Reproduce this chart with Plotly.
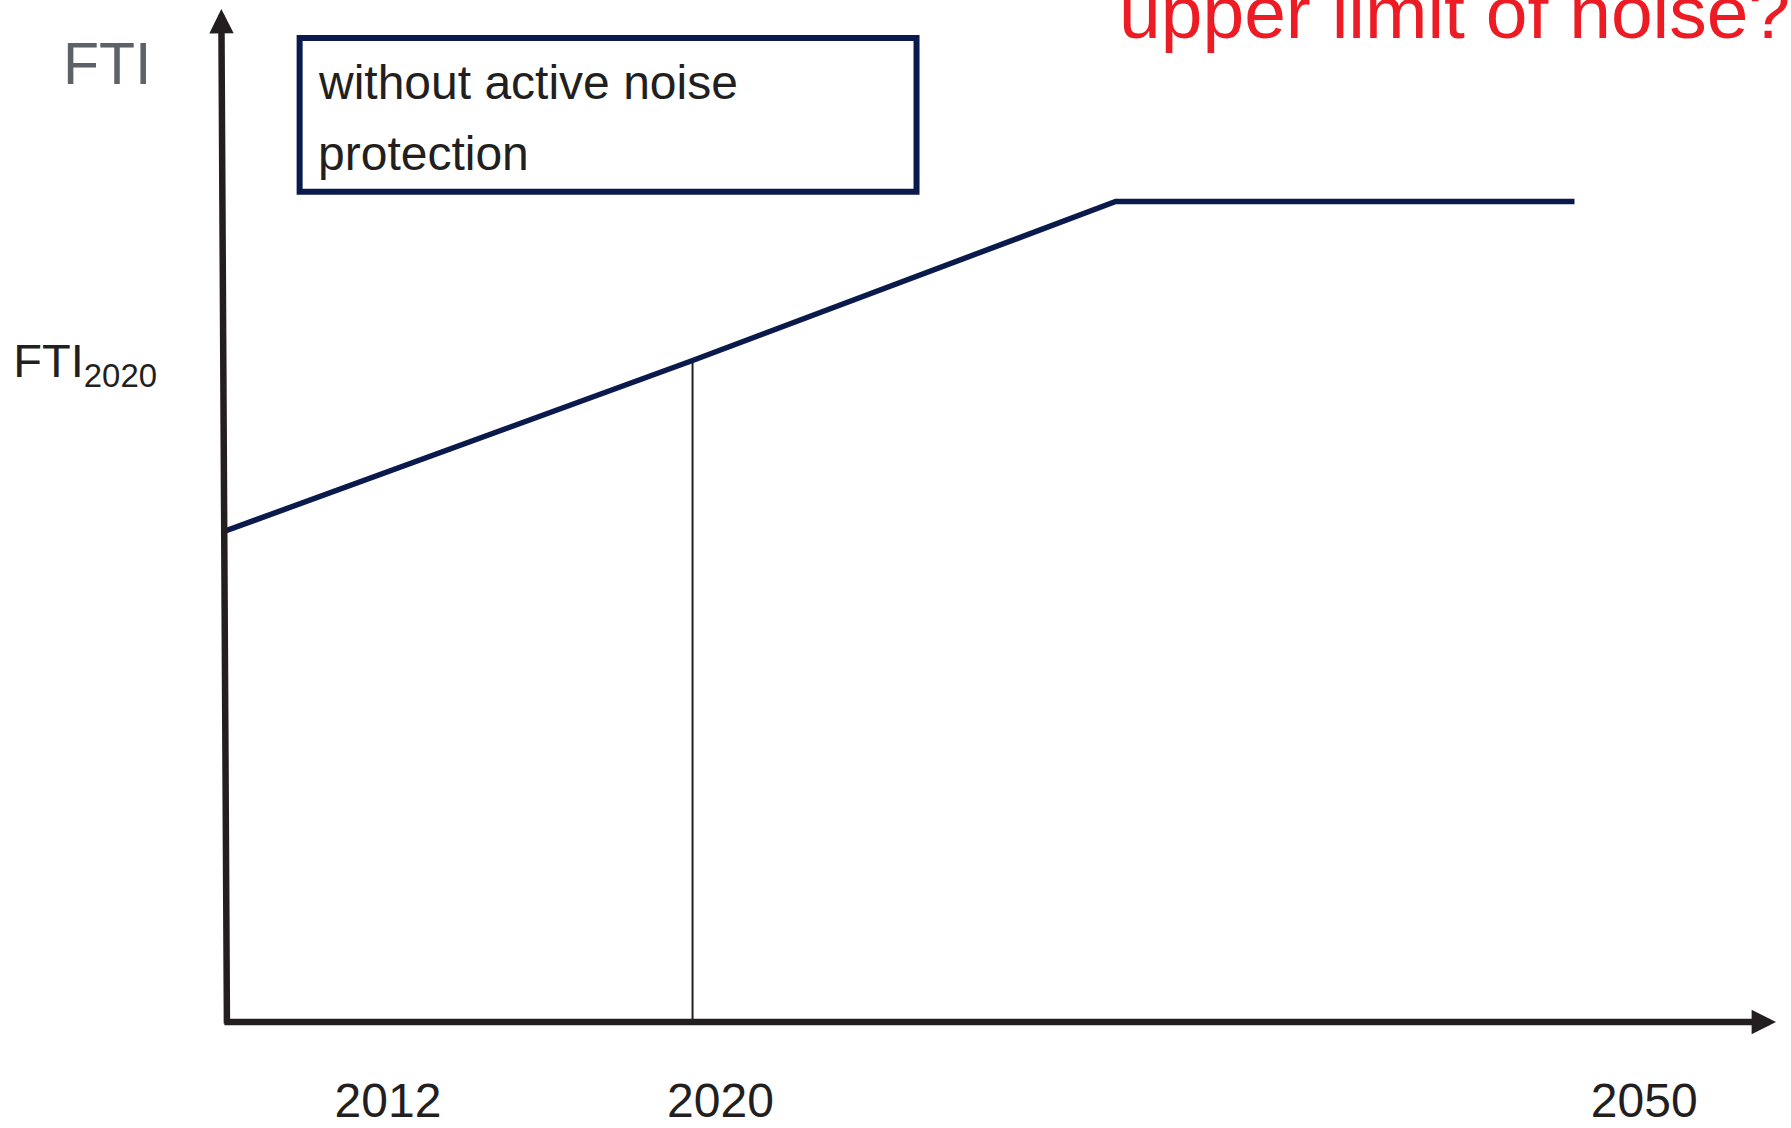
import plotly.graph_objects as go

# Schematic time axis (arbitrary units) and FTI values (arbitrary units)
time_pos = [0, 30.1, 57.4, 87.0]
fti_values = [48.5, 65.3, 81.0, 81.0]

# Marker of year 2020
marker_2020_x = [30.1, 30.1]
marker_2020_y = [0, 65.3]

# Tick labels
x_tick_vals = [10.45, 31.9, 91.5]
x_tick_text = ["2012", "2020", "2050"]
y_tick_vals = [65.3]
y_tick_text = ["FTI<sub>2020</sub>"]

FONT = "Liberation Sans, Arial, sans-serif"
NAVY = "#0b1a4c"
DARK = "#231f20"

fig = go.Figure()

fig.add_trace(go.Scatter(
    x=marker_2020_x, y=marker_2020_y, mode="lines",
    line=dict(color=DARK, width=2), showlegend=False, hoverinfo="skip",
    cliponaxis=False,
))
fig.add_trace(go.Scatter(
    x=time_pos, y=fti_values, mode="lines",
    line=dict(color=NAVY, width=5.5), showlegend=False,
    cliponaxis=False,
))

# Axis arrows
fig.add_annotation(x=100, y=0, ax=-0.2, ay=0, xref="x", yref="y",
                   axref="x", ayref="y", text="", showarrow=True,
                   arrowhead=2, arrowsize=0.75, arrowwidth=6.5, arrowcolor=DARK)
fig.add_annotation(x=-0.3, y=100, ax=0.06, ay=-0.3, xref="x", yref="y",
                   axref="x", ayref="y", text="", showarrow=True,
                   arrowhead=2, arrowsize=0.75, arrowwidth=6.5, arrowcolor=DARK)

# Y axis title
fig.add_annotation(x=-0.0768, y=0.946, xref="paper", yref="paper",
                   text="FTI", showarrow=False, xanchor="center", yanchor="middle",
                   font=dict(family=FONT, size=59, color="#5d6168"))

# Box with text
fig.add_shape(type="rect", xref="paper", yref="paper",
              x0=0.0475, x1=0.4455, y0=0.8195, y1=0.9713,
              line=dict(color=NAVY, width=6), fillcolor="rgba(0,0,0,0)")
fig.add_annotation(x=0.058, y=0.927, xref="paper", yref="paper",
                   text="without active noise", showarrow=False,
                   xanchor="left", yanchor="middle",
                   font=dict(family=FONT, size=48, color=DARK))
fig.add_annotation(x=0.058, y=0.857, xref="paper", yref="paper",
                   text="protection", showarrow=False,
                   xanchor="left", yanchor="middle",
                   font=dict(family=FONT, size=48, color=DARK))

# Red question text (cut by the top edge)
fig.add_annotation(x=0.575, y=0.997, xref="paper", yref="paper",
                   text="upper limit of noise?", showarrow=False,
                   xanchor="left", yanchor="middle",
                   font=dict(family=FONT, size=75, color="#ed1c24"))

fig.update_layout(
    width=1791, height=1128,
    margin=dict(l=226, r=15, t=9, b=106),
    paper_bgcolor="white", plot_bgcolor="white",
    xaxis=dict(range=[0, 100], showgrid=False, zeroline=False, showline=False,
               tickmode="array", tickvals=x_tick_vals, ticktext=x_tick_text,
               ticks="", ticklabelstandoff=46, automargin=False,
               tickfont=dict(family=FONT, size=48, color=DARK)),
    yaxis=dict(range=[0, 100], showgrid=False, zeroline=False, showline=False,
               tickmode="array", tickvals=y_tick_vals, ticktext=y_tick_text,
               ticks="", ticklabelstandoff=68, automargin=False,
               tickfont=dict(family=FONT, size=47, color=DARK)),
    showlegend=False,
)

fig.write_html("out.html", config={"displayModeBar": False},
               post_script="document.body.style.margin='0px';")
